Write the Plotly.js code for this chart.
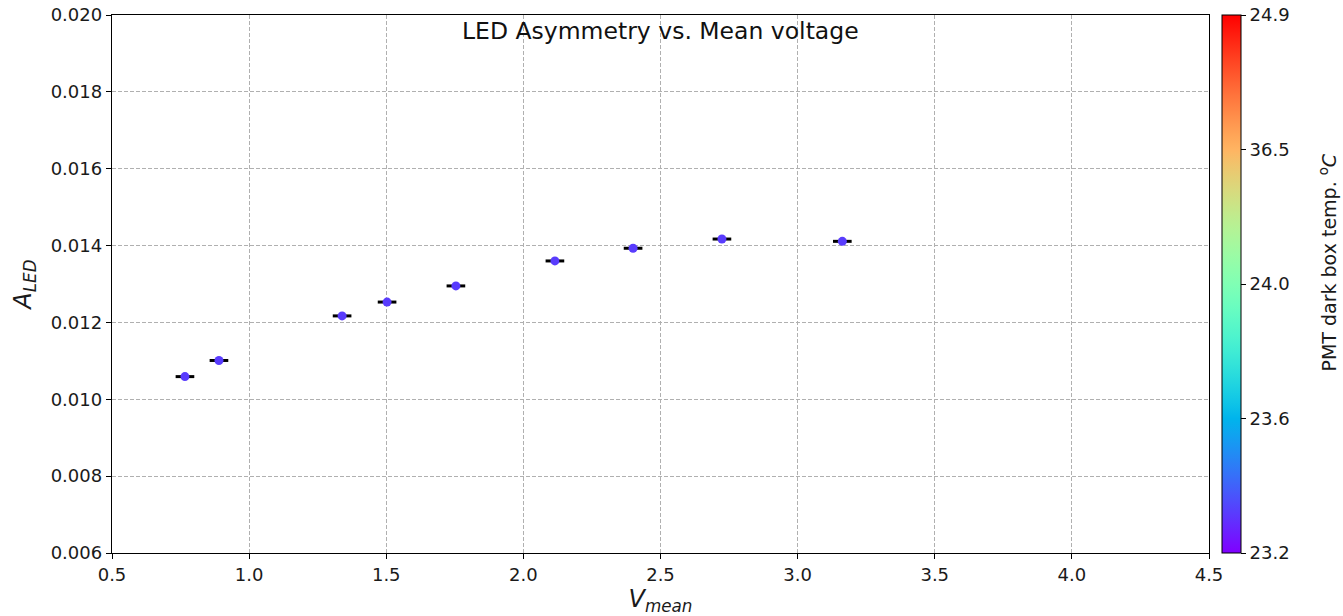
<!DOCTYPE html>
<html>
<head>
<meta charset="utf-8">
<script src="https://cdn.plot.ly/plotly-3.0.1.min.js"></script>
<style>
  html, body { margin: 0; padding: 0; background: #ffffff; }
  #plot { width: 1343px; height: 616px; }
</style>
</head>
<body>
<div id="plot"></div>
<script>
// Mean LED voltage per run (V)
const vMean = [0.766, 0.890, 1.339, 1.503, 1.754, 2.115, 2.400, 2.724, 3.163];
// LED asymmetry per run
const aLed = [0.01059, 0.01101, 0.01217, 0.01253, 0.01295, 0.01360, 0.01393, 0.01417, 0.01411];
// Horizontal uncertainty on the mean voltage
const vErr = [0.034, 0.034, 0.034, 0.034, 0.034, 0.034, 0.034, 0.034, 0.034];
// Vertical uncertainty on the asymmetry
const aErr = [0.00003, 0.00003, 0.00003, 0.00003, 0.00003, 0.00003, 0.00003, 0.00003, 0.00003];
// Dark box temperature, as position along the colour bar (0 = bottom, 1 = top)
const tempLevel = [0.075, 0.075, 0.075, 0.075, 0.075, 0.075, 0.075, 0.075, 0.075];
// Colour bar tick labels, bottom to top
const cbarTickText = ['23.2', '23.6', '24.0', '36.5', '24.9'];
const cbarTickVals = [0, 0.25, 0.5, 0.75, 1];

// Matplotlib-style "rainbow" colour map
function rainbowScale(n) {
  const stops = [];
  for (let i = 0; i <= n; i++) {
    const t = i / n;
    const r = Math.min(1, Math.abs(2 * t - 0.5));
    const g = Math.sin(Math.PI * t);
    const b = Math.cos(Math.PI * t / 2);
    stops.push([t, `rgb(${Math.round(r * 255)},${Math.round(g * 255)},${Math.round(Math.max(0, b) * 255)})`]);
  }
  return stops;
}

const font = '"DejaVu Sans", Verdana, sans-serif';
const textColor = '#1a1a1a';

const trace = {
  type: 'scatter',
  mode: 'markers',
  x: vMean,
  y: aLed,
  error_x: { type: 'data', array: vErr, visible: true, color: '#000000', thickness: 3, width: 0 },
  error_y: { type: 'data', array: aErr, visible: true, color: '#000000', thickness: 1.5, width: 0 },
  marker: {
    size: 9,
    color: tempLevel,
    colorscale: rainbowScale(40),
    cmin: 0,
    cmax: 1,
    line: { width: 0 },
    showscale: true,
    colorbar: {
      x: 1.0118,
      xanchor: 'left',
      xpad: 0,
      y: 0.5,
      yanchor: 'middle',
      ypad: 0,
      len: 1,
      lenmode: 'fraction',
      thickness: 19,
      thicknessmode: 'pixels',
      outlinecolor: '#000000',
      outlinewidth: 1,
      tickmode: 'array',
      tickvals: cbarTickVals,
      ticktext: cbarTickText,
      ticks: 'outside',
      ticklen: 5,
      tickwidth: 1,
      tickcolor: '#000000',
      tickfont: { family: font, size: 18, color: textColor },
      title: { text: '' }
    }
  },
  hoverinfo: 'x+y'
};

const layout = {
  width: 1343,
  height: 616,
  margin: { l: 112, r: 134, t: 15, b: 63 },
  paper_bgcolor: '#ffffff',
  plot_bgcolor: '#ffffff',
  showlegend: false,
  font: { family: font, color: textColor },
  xaxis: {
    range: [0.5, 4.5],
    tickmode: 'linear',
    tick0: 0.5,
    dtick: 0.5,
    tickformat: '.1f',
    showline: true,
    linecolor: '#000000',
    linewidth: 1.2,
    mirror: true,
    ticks: 'outside',
    ticklen: 5,
    tickcolor: '#000000',
    tickfont: { family: font, size: 18, color: textColor },
    showgrid: true,
    gridcolor: '#b0b0b0',
    griddash: '4px,2px',
    gridwidth: 1,
    zeroline: false,
    title: {
      text: '<i>V</i><sub><i>mean</i></sub>',
      font: { family: font, size: 24, color: textColor },
      standoff: 6
    }
  },
  yaxis: {
    range: [0.006, 0.020],
    tickmode: 'linear',
    tick0: 0.006,
    dtick: 0.002,
    tickformat: '.3f',
    showline: true,
    linecolor: '#000000',
    linewidth: 1.2,
    mirror: true,
    ticks: 'outside',
    ticklen: 5,
    tickcolor: '#000000',
    tickfont: { family: font, size: 18, color: textColor },
    showgrid: true,
    gridcolor: '#b0b0b0',
    griddash: '4px,2px',
    gridwidth: 1,
    zeroline: false,
    title: {
      text: '<i>A</i><sub><i>LED</i></sub>',
      font: { family: font, size: 24, color: textColor },
      standoff: 12
    }
  },
  annotations: [
    {
      text: 'LED Asymmetry vs. Mean voltage',
      xref: 'paper', yref: 'paper',
      x: 0.5, y: 1,
      xanchor: 'center', yanchor: 'top',
      yshift: 0,
      showarrow: false,
      font: { family: font, size: 23.5, color: '#111111' }
    },
    {
      text: 'PMT dark box temp. <sup>o</sup><i>C</i>',
      xref: 'paper', yref: 'paper',
      x: 1.1085, y: 0.54,
      xanchor: 'center', yanchor: 'middle',
      textangle: -90,
      showarrow: false,
      font: { family: font, size: 19, color: textColor }
    }
  ]
};

Plotly.newPlot('plot', [trace], layout, { displayModeBar: false, staticPlot: true });
</script>
</body>
</html>
